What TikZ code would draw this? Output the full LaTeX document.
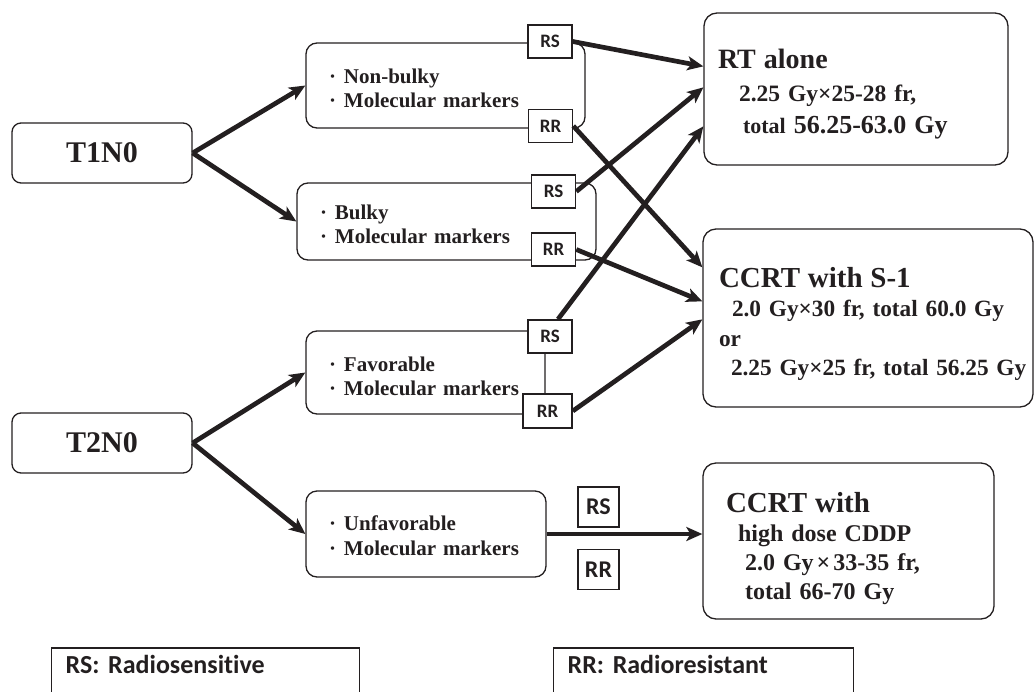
\documentclass[tikz,border=0pt]{standalone}
\usepackage{fontspec}
\setmainfont{Liberation Serif}
\newfontfamily\tagfont{Carlito}[Ligatures=NoCommon]
\usetikzlibrary{arrows.meta}
\definecolor{ink}{HTML}{231f20}

\begin{document}
\begin{tikzpicture}[
  x=1pt, y=-1pt,
  font=\bfseries, text=ink,
  stage/.style={draw=ink, rounded corners=9pt, line width=1.3pt, minimum width=180pt, minimum height=60pt, font=\fontsize{30}{36}\selectfont\bfseries},
  grp/.style={draw=ink, rounded corners=11pt, line width=1.3pt, align=left, inner xsep=23pt, font=\fontsize{21}{24.5}\selectfont\bfseries},
  trt/.style={draw=ink, rounded corners=13pt, line width=1.3pt, align=left, font=\fontsize{24}{29.5}\selectfont\bfseries},
  tag/.style={draw=ink, fill=white, line width=1.6pt, inner sep=0pt, minimum width=44pt, minimum height=33pt, font=\tagfont\fontsize{19}{22}\selectfont\bfseries},
  bigtag/.style={tag, minimum width=41pt, minimum height=40pt, font=\tagfont\fontsize{24}{28}\selectfont\bfseries},
  key/.style={draw=ink, line width=1.3pt, anchor=base west, align=left, inner xsep=14pt, inner ysep=5pt, text height=20pt, text depth=25pt, font=\tagfont\fontsize{26}{30}\selectfont\bfseries},
  arr/.style={-{Stealth[length=16pt, width=14pt, inset=4pt]}, line width=4.7pt, draw=ink},
]
\useasboundingbox (0,0) rectangle (1036,691);
% stages
\node[stage] (t1) at (102,153) {T1N0};
\node[stage] (t2) at (102,443) {T2N0};
% tumour groups
\node[grp, text width=233pt, minimum height=85pt] (nb) at (445.5,85.5) {\rule{0pt}{20pt}·\hspace{8pt}Non-bulky\\·\hspace{8pt}Molecular markers};
\node[grp, text width=253pt, minimum height=77pt] (bk) at (446.5,221.5) {\rule{0pt}{20pt}·\hspace{8pt}Bulky\\·\hspace{8pt}Molecular markers};
\node[grp, text width=193pt, minimum height=83pt] (fav) at (425.5,372.5) {\rule{0pt}{22pt}·\hspace{8pt}Favorable\\·\hspace{8pt}Molecular markers};
\node[grp, text width=194pt, minimum height=86pt] (unf) at (426,534) {\rule{0pt}{18pt}·\hspace{8pt}Unfavorable\\·\hspace{8pt}Molecular markers};
\draw[arr] (t1.east) -- (nb.west);
\draw[arr] (t1.east) -- (bk.west);
\draw[arr] (t2.east) -- (fav.west);
\draw[arr] (t2.east) -- (unf.west);
% RS / RR tags
\node[tag] (rs1) at (550,41.5) {RS};
\node[tag] (rr1) at (550.5,126) {RR};
\node[tag] (rs2) at (553.5,191.5) {RS};
\node[tag] (rr2) at (553.5,249.5) {RR};
\node[tag] (rs3) at (550,336.5) {RS};
\node[tag, minimum width=49pt, minimum height=34pt] (rr3) at (547.5,411) {RR};
\node[bigtag] (rs4) at (598.5,507) {RS};
\node[bigtag] (rr4) at (598.5,569.5) {RR};
% treatments
\node[trt, inner xsep=14pt, text width=276pt, minimum height=152pt, font=\fontsize{24}{32.5}\selectfont\bfseries] (rt) at (856,89)
  {\rule{0pt}{30pt}{\fontsize{28}{32.5}\selectfont RT alone}\\
   \hspace*{21pt}{\fontsize{23.5}{32.5}\selectfont 2.25 Gy×25-28 fr,}\\
   \hspace*{25pt}{\fontsize{22}{32.5}\selectfont total} {\fontsize{26}{32.5}\selectfont 56.25-63.0 Gy}};
\node[trt, inner xsep=4pt, text width=322pt, minimum height=178pt, font=\fontsize{23.3}{29.5}\selectfont\bfseries] (cc) at (868,318)
  {\rule{0pt}{32pt}\hspace*{12pt}{\fontsize{29}{29.5}\selectfont CCRT with S-1}\\
   \hspace*{25pt}2.0 Gy×30 fr, total 60.0 Gy\\
   \hspace*{12pt}or\\
   \hspace*{24pt}2.25 Gy×25 fr, total 56.25 Gy};
\node[trt, inner xsep=23pt, text width=245pt, minimum height=156pt, font=\fontsize{24}{29}\selectfont\bfseries] (hd) at (848.5,541)
  {\rule{0pt}{36pt}{\fontsize{29}{29}\selectfont CCRT with}\\
   \hspace*{12pt}high dose CDDP\\
   \hspace*{19pt}2.0 Gy\hspace{3pt}×\hspace{3pt}33-35 fr,\\
   \hspace*{19pt}total 66-70 Gy};
\draw[arr] (rs1.east) -- ([yshift=-54pt]rt.north west);
\draw[arr] (rs2.east) -- ([yshift=-75pt]rt.north west);
\draw[arr] ([xshift=8pt]rs3.north) -- ([yshift=-114pt]rt.north west);
\draw[arr] (rr1.east) -- ([yshift=-39pt]cc.north west);
\draw[arr] (rr2.east) -- ([yshift=-73pt]cc.north west);
\draw[arr] (rr3.east) -- ([yshift=-91pt]cc.north west);
\draw[arr] (unf.east) -- (unf.east -| hd.west);
% legend
\node[key, text width=280pt] (krs) at (51,673) {RS: Radiosensitive};
\node[key, text width=272pt] (krr) at (553,673) {RR: Radioresistant};
\end{tikzpicture}
\end{document}
